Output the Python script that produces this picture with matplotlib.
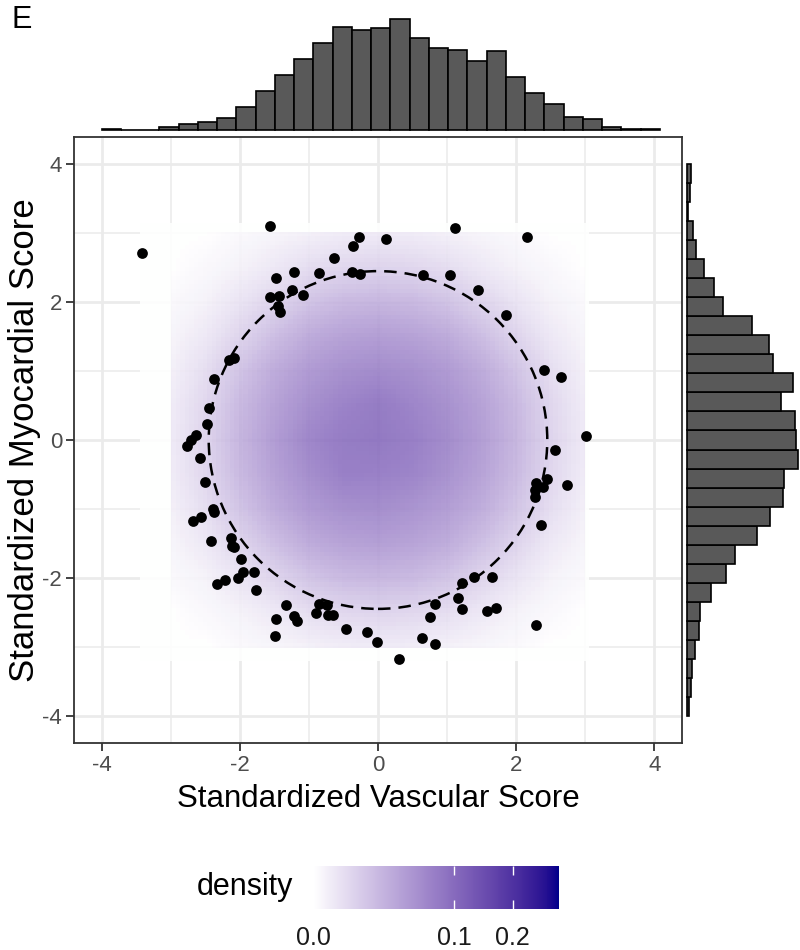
import numpy as np
import matplotlib
matplotlib.use("Agg")
import matplotlib.pyplot as plt
from matplotlib.colors import ListedColormap, PowerNorm
from matplotlib.patches import Circle
from matplotlib.cm import ScalarMappable

plt.rcParams['font.family'] = ['Liberation Sans', 'DejaVu Sans']
plt.rcParams['axes.unicode_minus'] = False

# ---------------- data ----------------
# marginal histogram of Standardized Vascular Score (29 bins, left to right)
vascular_hist_counts = [1, 0, 0, 3, 6, 8, 12, 23, 39, 55, 71, 87, 103, 100, 102,
                        111, 92, 82, 80, 69, 79, 53, 37, 26, 13, 11, 3, 1, 1]
vascular_hist_range = (-4.0, 4.08)
# marginal histogram of Standardized Myocardial Score (29 bins, bottom to top)
myocardial_hist_counts = [2, 4, 5, 7, 11, 12, 22, 36, 45, 65, 77, 89, 90, 103, 101,
                          100, 87, 98, 80, 76, 60, 33, 25, 16, 8, 6, 1, 3, 4]
myocardial_hist_range = (-4.01, 4.01)

# points outside the 95% circle
vascular_out = [-3.41, -1.57, -0.28, -0.36, -0.63, -0.38, -0.26, -0.86, -1.22, -1.47,
                -1.25, -1.08, -1.57, -1.43, -1.45, -1.42, -2.15, -2.09, -2.38, -2.45,
                -2.47, -2.64, -2.70, -2.77, -2.57, -2.51, -2.39, -2.37, -2.56, -2.68,
                -2.42, -2.13, -2.11, -2.09, -1.98, -1.95, -2.03, -1.80, -1.76, -2.22,
                -2.33, -1.33, -1.48, -1.22, -1.17, -1.49, -0.86, -0.74, -0.90, -0.72,
                -0.65, -0.46, -0.16, -0.01, 0.31, 0.64, 0.82, 0.82, 0.75, 1.21,
                1.39, 1.65, 1.16, 1.21, 1.58, 1.71, 2.29, 2.36, 2.27, 2.27,
                2.29, 2.39, 2.45, 2.73, 2.56, 3.01, 2.40, 2.65, 1.85, 1.45,
                1.04, 0.65, 0.11, 1.11, 2.16]
myocardial_out = [2.71, 3.10, 2.95, 2.81, 2.64, 2.44, 2.41, 2.42, 2.44, 2.35,
                  2.18, 2.11, 2.07, 2.09, 1.95, 1.86, 1.16, 1.19, 0.88, 0.47,
                  0.23, 0.07, 0.00, -0.09, -0.26, -0.61, -1.00, -1.05, -1.11, -1.18,
                  -1.46, -1.42, -1.54, -1.55, -1.72, -1.92, -2.00, -1.92, -2.17, -2.03,
                  -2.09, -2.39, -2.59, -2.56, -2.62, -2.85, -2.38, -2.40, -2.51, -2.54,
                  -2.54, -2.74, -2.79, -2.93, -3.18, -2.87, -2.96, -2.38, -2.57, -2.08,
                  -1.99, -1.99, -2.29, -2.45, -2.48, -2.43, -2.69, -1.23, -0.82, -0.72,
                  -0.63, -0.68, -0.57, -0.65, -0.14, 0.06, 1.01, 0.91, 1.81, 2.17,
                  2.40, 2.40, 2.92, 3.07, 2.95]

density_grid_x = [-3.0, -2.5, -2.0, -1.5, -1.0, -0.5, 0.0, 0.5, 1.0, 1.5, 2.0, 2.5, 3.0]
density_grid_y = [3.0, 2.5, 2.0, 1.5, 1.0, 0.5, 0.0, -0.5, -1.0, -1.5, -2.0, -2.5, -3.0]
density_x1000 = [
    [0.0, 0.0, 0.15, 0.5, 1.0, 1.7, 2.0, 1.7, 1.0, 0.5, 0.15, 0.0, 0.0],
    [0.0, 0.2, 0.8, 2.5, 5.5, 8.0, 9.0, 8.0, 5.5, 2.5, 0.8, 0.2, 0.0],
    [0.15, 0.8, 3.5, 9.0, 18., 25., 27., 25., 18., 9.0, 3.5, 0.8, 0.15],
    [0.5, 2.5, 9.0, 22., 37., 46., 50., 46., 37., 22., 9.0, 2.5, 0.5],
    [1.0, 5.5, 18., 37., 54., 67., 72., 67., 54., 37., 18., 5.5, 1.0],
    [1.7, 8.0, 25., 46., 68., 85., 96., 82., 66., 46., 25., 8.0, 1.7],
    [2.0, 9.0, 28., 52., 80., 95., 100, 90., 72., 50., 27., 9.0, 2.0],
    [1.7, 8.0, 25., 47., 70., 90., 88., 83., 65., 45., 24., 8.0, 1.7],
    [1.0, 5.5, 18., 37., 55., 67., 70., 62., 50., 35., 17., 5.5, 1.0],
    [0.5, 2.5, 9.0, 22., 37., 46., 49., 45., 36., 21., 9.0, 2.5, 0.5],
    [0.15, 0.8, 3.5, 9.0, 18., 25., 27., 25., 18., 9.0, 3.5, 0.8, 0.15],
    [0.0, 0.2, 0.8, 2.5, 5.5, 8.0, 9.0, 8.0, 5.5, 2.5, 0.8, 0.2, 0.0],
    [0.0, 0.0, 0.15, 0.5, 1.0, 1.7, 2.0, 1.7, 1.0, 0.5, 0.15, 0.0, 0.0],
]

circle_center = (0.0, 0.0)
circle_radius = 2.45          # 95% region

density_limits = (0.0, 0.303)
density_ticks = [0.0, 0.1, 0.2]
axis_ticks = [-4, -2, 0, 2, 4]
minor_ticks = [-3, -1, 1, 3]
axis_limits = (-4.4, 4.4)

# ---------------- colour map: white -> darkblue interpolated in Lab ----------------
M = np.array([[0.4124564, 0.3575761, 0.1804375],
              [0.2126729, 0.7151522, 0.0721750],
              [0.0193339, 0.1191920, 0.9503041]])
WHITE = np.array([0.95047, 1.0, 1.08883])
D = 6 / 29


def srgb_to_lab(rgb):
    rgb = np.asarray(rgb, float)
    lin = np.where(rgb <= 0.04045, rgb / 12.92, ((rgb + 0.055) / 1.055) ** 2.4)
    t = (M @ lin) / WHITE
    f = np.where(t > D ** 3, np.cbrt(t), t / (3 * D * D) + 4 / 29)
    return np.array([116 * f[1] - 16, 500 * (f[0] - f[1]), 200 * (f[1] - f[2])])


def lab_to_srgb(lab):
    L, a, b = lab
    fy = (L + 16) / 116
    fx = fy + a / 500
    fz = fy - b / 200

    def finv(f):
        return np.where(f > D, f ** 3, 3 * D * D * (f - 4 / 29))
    xyz = np.array([finv(fx), finv(fy), finv(fz)]) * WHITE[:, None]
    lin = np.linalg.inv(M) @ xyz
    lin = np.clip(lin, 0, None)
    rgb = np.where(lin <= 0.0031308, 12.92 * lin, 1.055 * lin ** (1 / 2.4) - 0.055)
    return np.clip(rgb, 0, 1)


lab_lo = srgb_to_lab([1.0, 1.0, 1.0])
lab_hi = srgb_to_lab([0.0, 0.0, 139 / 255])
tt = np.linspace(0, 1, 256)
labs = lab_lo[:, None] * (1 - tt) + lab_hi[:, None] * tt
cmap = ListedColormap(lab_to_srgb(labs).T)
norm = PowerNorm(gamma=0.5, vmin=density_limits[0], vmax=density_limits[1])

# ---------------- density raster (100 x 100 cells over the data range) ----------------
n_grid = 100
gx = np.linspace(min(vascular_out), max(vascular_out), n_grid)
gy = np.linspace(min(myocardial_out), max(myocardial_out), n_grid)

dens = np.sqrt(np.asarray(density_x1000) / 1000.0)[::-1]      # rows bottom -> top
ys_read = np.asarray(density_grid_y)[::-1]
xs_read = np.asarray(density_grid_x)
rows = np.array([np.interp(gx, xs_read, r, left=0, right=0) for r in dens])
Z = np.array([np.interp(gy, ys_read, c, left=0, right=0) for c in rows.T]).T ** 2

# ---------------- figure layout (pixel based) ----------------
W, H = 800, 950
fig = plt.figure(figsize=(W / 100, H / 100), dpi=100)


def box(x0, y0, x1, y1):
    return [x0 / W, 1 - y1 / H, (x1 - x0) / W, (y1 - y0) / H]


ax = fig.add_axes(box(74, 136.7, 682, 743.3))
ax_top = fig.add_axes(box(74, 19, 682, 130))
ax_right = fig.add_axes(box(687, 136.7, 798, 743.3))
cax = fig.add_axes(box(313, 866, 559, 909))

# ---------------- main panel ----------------
ax.set_xlim(*axis_limits)
ax.set_ylim(*axis_limits)
ax.set_axisbelow(True)
ax.set_xticks(axis_ticks)
ax.set_yticks(axis_ticks)
ax.set_xticks(minor_ticks, minor=True)
ax.set_yticks(minor_ticks, minor=True)
ax.grid(which='major', color='#EBEBEB', lw=2.0, zorder=0)
ax.grid(which='minor', color='#EBEBEB', lw=1.1, zorder=0)
ax.tick_params(which='minor', length=0)
ax.tick_params(which='major', length=5.5, width=1.3, color='#333333',
               labelsize=16, labelcolor='#4D4D4D', pad=3)
for s in ax.spines.values():
    s.set_color('#333333')
    s.set_linewidth(1.3)

dx = (gx[1] - gx[0]) / 2
dy = (gy[1] - gy[0]) / 2
ax.imshow(Z, origin='lower', cmap=cmap, norm=norm, alpha=0.9,
          extent=(gx[0] - dx, gx[-1] + dx, gy[0] - dy, gy[-1] + dy),
          interpolation='nearest', aspect='auto', zorder=1)

ax.add_patch(Circle(circle_center, circle_radius, fill=False, ec='black',
                    lw=1.8, ls=(0, (5.0, 3.2)), zorder=2))
ax.scatter(vascular_out, myocardial_out, s=60, c='black', lw=0, zorder=3)

ax.set_xlabel('Standardized Vascular Score', fontsize=22.5, color='black', labelpad=6)
ax.set_ylabel('Standardized Myocardial Score', fontsize=25, color='black')
ax.yaxis.set_label_coords(-(74 - 41) / 608, 0.5)

# ---------------- marginal histograms ----------------
bar_fc = '#595959'
ax_top.bar(np.linspace(*vascular_hist_range, len(vascular_hist_counts) + 1)[:-1],
           vascular_hist_counts, align='edge',
           width=(vascular_hist_range[1] - vascular_hist_range[0]) / len(vascular_hist_counts),
           color=bar_fc, edgecolor='black', linewidth=1.2, clip_on=False)
ax_top.set_xlim(*axis_limits)
ax_top.set_ylim(0, max(vascular_hist_counts))
ax_top.axis('off')

ax_right.barh(np.linspace(*myocardial_hist_range, len(myocardial_hist_counts) + 1)[:-1],
              myocardial_hist_counts, align='edge',
              height=(myocardial_hist_range[1] - myocardial_hist_range[0]) / len(myocardial_hist_counts),
              color=bar_fc, edgecolor='black', linewidth=1.2, clip_on=False)
ax_right.set_ylim(*axis_limits)
ax_right.set_xlim(0, max(myocardial_hist_counts))
ax_right.axis('off')

# ---------------- colour bar legend ----------------
sm = ScalarMappable(norm=norm, cmap=cmap)
cb = fig.colorbar(sm, cax=cax, orientation='horizontal', ticks=density_ticks)
cb.outline.set_visible(False)
cb.ax.set_xticklabels(['%.1f' % t for t in density_ticks])
cax.tick_params(axis='x', direction='in', color='white', length=6.5, width=1.0,
                top=True, bottom=True, labelsize=18, labelcolor='#1A1A1A', pad=12)

fig.text(293 / W, 1 - 887 / H, 'density', fontsize=22, ha='right', va='center')
fig.text(12 / W, 1 - 5 / H, 'E', fontsize=22, ha='left', va='top')

fig.savefig('out.png', dpi=100)
